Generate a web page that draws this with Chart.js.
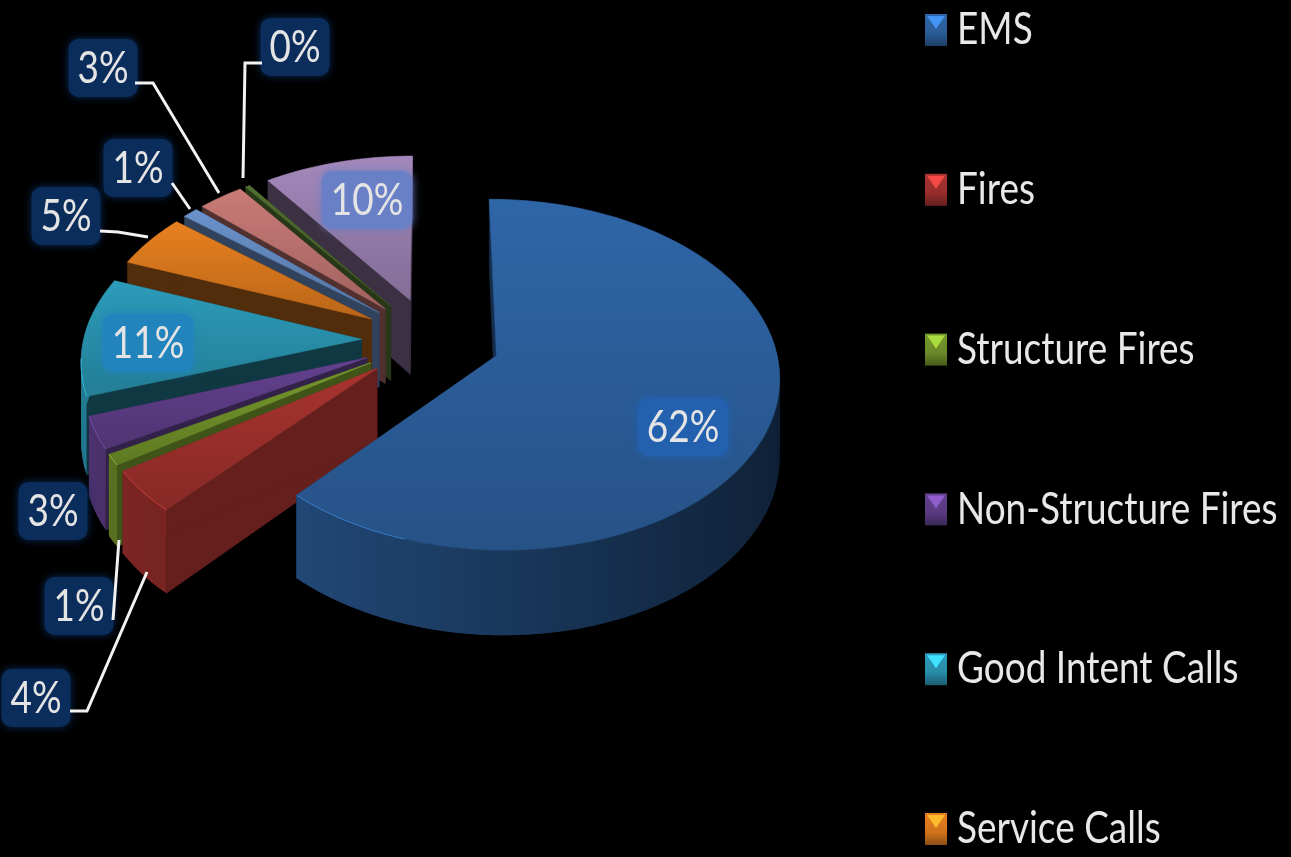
<!DOCTYPE html>
<html lang="en">
<head>
  <meta charset="UTF-8">
  <title>Incident types</title>
  <script src="https://cdn.jsdelivr.net/npm/chart.js"></script>
  <style>
    html, body { margin: 0; padding: 0; background: #000; overflow: hidden; }
    canvas { display: block; }
  </style>
</head>
<body>
  <canvas id="myChart" width="1291" height="857"></canvas>
  <script>
    // only the first six legend names are visible in the picture
    const categories = ['EMS', 'Fires', 'Structure Fires', 'Non-Structure Fires', 'Good Intent Calls', 'Service Calls'];
    const values = [62, 4, 1, 3, 11, 5, 1, 3, 0.3, 10];
    const sliceColors = ['#2f66a8', '#a83330', '#76982c', '#63418f', '#2c9cba', '#e8801f', '#6a92cc', '#c97b77', '#4f6e30', '#a488bb'];
    const wallShades = [0.45, 0.6, 0.55, 0.5, 0.36, 0.35, 0.45, 0.4, 0.5, 0.36];
    const labelGlows = ['#2361ae', '#0b2d5c', '#0b2d5c', '#0b2d5c', '#2284bd', '#0b2d5c', '#0b2d5c', '#0b2d5c', '#0b2d5c', '#6a80c6'];
    // label centres and leader lines, screen px
    const labelSpots = [[683, 427], [36, 698], [79, 606], [53, 511], [148, 343], [66, 216], [138, 168], [103, 68], [295, 47], [367, 200]];
    const leaders = [
      null,
      [[70, 711], [87, 711], [147, 572]],
      [[113, 620], [119, 540]],
      null, null,
      [[100, 231], [118, 232], [148, 237]],
      [[172, 183], [190, 209]],
      [[135, 83], [153, 83], [219, 193]],
      [[262, 63], [245, 63], [243, 178]],
      null
    ];

    // 3d view of the pie
    const view = { cx: 431, cy: 340, rx: 278, ry: 172, depth: 76, persp: 0.11 };
    const FONT = '44px Lato';
    const SQUEEZE = 0.84;

    function rgb(hex, f) {
      const n = parseInt(hex.slice(1), 16);
      const c = [n >> 16, (n >> 8) & 255, n & 255].map(function (a) {
        return Math.min(255, Math.round(a * f));
      });
      return 'rgb(' + c.join(',') + ')';
    }

    function project(off, mid, r, theta, z) {
      const u = off * Math.sin(mid) + r * Math.sin(theta);
      const v = -off * Math.cos(mid) - r * Math.cos(theta);
      const p = 1 + view.persp * v;
      return [view.cx + view.rx * u * p, view.cy + view.ry * v * p + view.depth * z * p];
    }

    function tracePoly(ctx, pts) {
      ctx.beginPath();
      pts.forEach(function (p, i) { i ? ctx.lineTo(p[0], p[1]) : ctx.moveTo(p[0], p[1]); });
      ctx.closePath();
    }

    function fillPoly(ctx, pts, color) {
      tracePoly(ctx, pts);
      ctx.fillStyle = color;
      ctx.strokeStyle = color;
      ctx.lineWidth = 0.6;
      ctx.fill();
      ctx.stroke();
    }

    function drawSlice(ctx, arc, i) {
      const props = arc.getProps(['startAngle', 'endAngle', 'outerRadius'], true);
      const base = arc.options.backgroundColor;
      const off = arc.options.offset / props.outerRadius;
      const a0 = props.startAngle + Math.PI / 2;
      const a1 = props.endAngle + Math.PI / 2;
      const mid = (a0 + a1) / 2;
      const steps = Math.max(2, Math.ceil((a1 - a0) / 0.02));
      const wall = rgb(base, wallShades[i]);

      // radial walls
      [a0, a1].forEach(function (a) {
        fillPoly(ctx, [project(off, mid, 0, a, 0), project(off, mid, 1, a, 0), project(off, mid, 1, a, 1), project(off, mid, 0, a, 1)], wall);
      });

      // outer wall, front part only. bands overlap so no seams show
      for (let s = steps - 1; s >= 0; s--) {
        const t0 = a0 + (a1 - a0) * s / steps;
        const t1 = a0 + (a1 - a0) * (s + 1) / steps;
        if (-Math.cos((t0 + t1) / 2) < -0.12) continue;
        const t2 = Math.min(a1, t1 + 0.02);
        tracePoly(ctx, [project(off, mid, 1, t0, 0), project(off, mid, 1, t2, 0), project(off, mid, 1, t2, 1), project(off, mid, 1, t0, 1)]);
        ctx.fillStyle = rgb(base, 0.55 - 0.23 * Math.sin((t0 + t1) / 2));
        ctx.fill();
      }

      // top face
      const top = [project(off, mid, 0, a0, 0)];
      for (let s = 0; s <= steps; s++) top.push(project(off, mid, 1, a0 + (a1 - a0) * s / steps, 0));
      const ys = top.map(function (p) { return p[1]; });
      const grad = ctx.createLinearGradient(0, Math.min.apply(null, ys), 0, Math.max.apply(null, ys));
      grad.addColorStop(0, rgb(base, 1.0));
      grad.addColorStop(1, rgb(base, 0.8));
      fillPoly(ctx, top, grad);

      // thin light rim on the front left edge
      ctx.beginPath();
      let open = false;
      for (let s = 0; s <= steps; s++) {
        const t = a0 + (a1 - a0) * s / steps;
        if (-Math.cos(t) < 0.1 || t < Math.PI * 1.1) { open = false; continue; }
        const p = project(off, mid, 1, t, 0);
        open ? ctx.lineTo(p[0], p[1]) : ctx.moveTo(p[0], p[1]);
        open = true;
      }
      ctx.strokeStyle = rgb(base, 1.2);
      ctx.lineWidth = 1;
      ctx.stroke();
    }

    function drawLabel(ctx, text, x, y, glow) {
      ctx.save();
      ctx.font = FONT;
      const w = ctx.measureText(text).width * SQUEEZE;
      ctx.fillStyle = glow;
      ctx.shadowColor = glow;
      ctx.shadowBlur = 8;
      ctx.beginPath();
      ctx.roundRect(x - w / 2 - 9, y - 29, w + 18, 58, 10);
      ctx.fill();
      ctx.restore();
      ctx.save();
      ctx.font = FONT;
      ctx.fillStyle = '#e4e4e4';
      ctx.textBaseline = 'middle';
      ctx.translate(x - w / 2, y);
      ctx.scale(SQUEEZE, 1);
      ctx.fillText(text, 0, 1);
      ctx.restore();
    }

    function drawSwatch(ctx, x, y, color) {
      const w = 22, h = 32;
      const g = ctx.createLinearGradient(0, y, 0, y + h);
      g.addColorStop(0, rgb(color, 1.0));
      g.addColorStop(0.6, rgb(color, 0.9));
      g.addColorStop(1, rgb(color, 0.6));
      ctx.fillStyle = g;
      ctx.fillRect(x, y, w, h);
      ctx.fillStyle = rgb(color, 1.45);
      ctx.beginPath();
      ctx.moveTo(x + 2, y + 2);
      ctx.lineTo(x + w - 2, y + 2);
      ctx.lineTo(x + w / 2, y + 15);
      ctx.closePath();
      ctx.fill();
    }

    const pie3d = {
      id: 'pie3d',
      beforeDatasetDraw: function (chart, args) {
        const ctx = chart.ctx;
        const arcs = args.meta.data;
        // painter order, back slices first and EMS last
        ctx.save();
        for (let i = arcs.length - 1; i >= 0; i--) drawSlice(ctx, arcs[i], i);
        ctx.restore();
        return false;
      },
      afterDraw: function (chart) {
        const ctx = chart.ctx;
        const data = chart.data.datasets[0].data;

        data.forEach(function (v, i) {
          drawLabel(ctx, Math.round(v) + '%', labelSpots[i][0], labelSpots[i][1], labelGlows[i]);
        });

        ctx.save();
        ctx.strokeStyle = '#f2f2f2';
        ctx.lineWidth = 3;
        leaders.forEach(function (line) {
          if (!line) return;
          ctx.beginPath();
          line.forEach(function (p, i) { i ? ctx.lineTo(p[0], p[1]) : ctx.moveTo(p[0], p[1]); });
          ctx.stroke();
        });
        ctx.restore();

        // legend runs past the bottom of the picture like the original, so no built in legend
        chart.data.labels.forEach(function (name, i) {
          const y = 30 + i * 159.8;
          drawSwatch(ctx, 925, y - 16, sliceColors[i]);
          ctx.save();
          ctx.font = FONT;
          ctx.fillStyle = '#e8e8e8';
          ctx.textBaseline = 'middle';
          ctx.translate(957, y);
          ctx.scale(SQUEEZE, 1);
          ctx.fillText(name, 0, 0);
          ctx.restore();
        });
      }
    };

    new Chart(document.getElementById('myChart'), {
      type: 'pie',
      data: {
        labels: categories,
        datasets: [{
          data: values,
          backgroundColor: sliceColors,
          borderWidth: 0,
          offset: 100
        }]
      },
      options: {
        responsive: false,
        animation: false,
        radius: 400,
        plugins: {
          legend: { display: false },
          tooltip: { enabled: false }
        }
      },
      plugins: [pie3d]
    });
  </script>
</body>
</html>
